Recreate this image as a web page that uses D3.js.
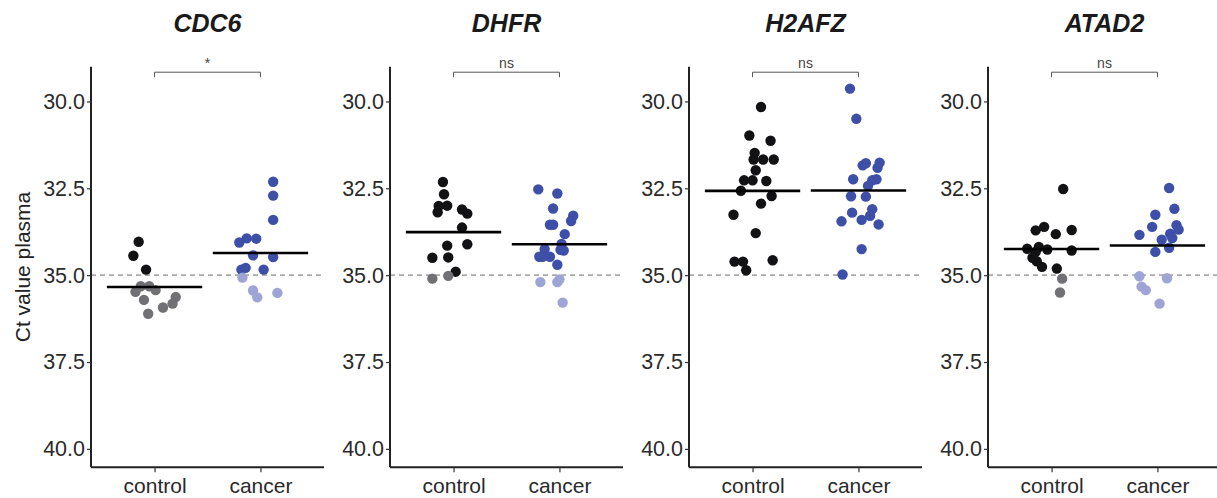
<!DOCTYPE html>
<html>
<head>
<meta charset="utf-8">
<script src="https://cdn.jsdelivr.net/npm/d3@7"></script>
<style>
  body { margin: 0; background: #fff; }
  text { font-family: "Liberation Sans", Arial, sans-serif; }
</style>
</head>
<body>
<div id="chart"></div>
<script>
// Panels and groups
var genes = ["CDC6", "DHFR", "H2AFZ", "ATAD2"];
var groups = ["control", "cancer"];
var signif = ["*", "ns", "ns", "ns"];
var yTicks = [30, 32.5, 35, 37.5, 40];
var cutoff = 35;

// Ct values (plasma)
var cdc6Control = [34.04, 34.44, 34.84, 35.32, 35.32, 35.48, 35.43, 35.71, 35.63, 35.82, 35.93, 36.11];
var cdc6Cancer = [32.31, 32.71, 33.41, 34.06, 33.94, 33.95, 34.43, 34.48, 34.84, 34.79, 34.84, 35.07, 35.44, 35.64, 35.51];
var dhfrControl = [32.32, 32.67, 33.01, 33.0, 33.19, 33.11, 33.23, 33.63, 34.15, 34.11, 34.5, 34.49, 34.9, 35.1, 35.02];
var dhfrCancer = [32.53, 32.65, 33.08, 33.29, 33.44, 33.55, 33.55, 33.82, 34.1, 34.25, 34.27, 34.29, 34.47, 34.47, 34.47, 34.7, 35.2, 35.2, 35.12, 35.79];
var h2afzControl = [30.16, 30.98, 31.13, 31.48, 31.67, 31.67, 31.67, 31.98, 32.27, 32.27, 32.29, 32.57, 32.72, 32.94, 33.26, 33.79, 34.61, 34.61, 34.57, 34.86];
var h2afzCancer = [29.63, 30.5, 31.84, 31.78, 31.76, 31.91, 32.24, 32.27, 32.24, 32.43, 32.73, 32.74, 33.2, 33.1, 33.29, 33.45, 33.41, 33.54, 34.25, 34.98];
var atad2Control = [32.52, 33.71, 33.61, 33.82, 33.70, 34.24, 34.19, 34.26, 34.29, 34.33, 34.5, 34.6, 34.76, 34.81, 35.1, 35.5];
var atad2Cancer = [32.49, 33.09, 33.26, 33.61, 33.56, 33.69, 33.84, 33.81, 33.98, 33.93, 34.21, 34.33, 35.03, 35.09, 35.33, 35.43, 35.82];

// horizontal jitter of each point, in category units
var cdc6ControlJitter = [-0.15, -0.20, -0.08, -0.13, -0.05, -0.18, 0.01, -0.10, 0.20, 0.17, 0.08, -0.06];
var cdc6CancerJitter = [0.12, 0.12, 0.12, -0.20, -0.13, -0.04, -0.07, 0.12, -0.18, -0.14, 0.03, -0.17, -0.07, -0.03, 0.16];
var dhfrControlJitter = [-0.10, -0.09, -0.14, -0.06, -0.15, 0.08, 0.13, 0.08, -0.06, 0.13, -0.20, -0.05, 0.02, -0.20, -0.05];
var dhfrCancerJitter = [-0.20, -0.02, -0.06, 0.13, 0.11, -0.09, -0.06, 0.05, 0.02, -0.14, 0.01, 0.04, -0.19, -0.16, -0.09, -0.02, -0.18, -0.02, 0.0, 0.03];
var h2afzControlJitter = [0.08, -0.03, 0.17, 0.02, 0.01, 0.10, 0.20, 0.03, -0.08, 0.0, 0.13, -0.11, 0.18, 0.08, -0.18, 0.03, -0.17, -0.09, 0.19, -0.06];
var h2afzCancerJitter = [-0.08, -0.02, 0.04, 0.07, 0.20, 0.18, -0.05, 0.13, 0.17, 0.09, -0.07, 0.07, -0.06, 0.13, 0.11, -0.16, 0.03, 0.19, 0.03, -0.15];
var atad2ControlJitter = [0.11, -0.15, -0.07, 0.04, 0.19, -0.23, -0.12, -0.04, 0.19, -0.15, -0.18, -0.14, -0.09, 0.05, 0.10, 0.08];
var atad2CancerJitter = [0.11, 0.16, -0.02, -0.05, 0.18, 0.20, -0.17, 0.12, 0.04, 0.14, 0.11, -0.02, -0.17, 0.09, -0.15, -0.11, 0.02];

var panels = [
  {control: cdc6Control, cancer: cdc6Cancer, controlJ: cdc6ControlJitter, cancerJ: cdc6CancerJitter},
  {control: dhfrControl, cancer: dhfrCancer, controlJ: dhfrControlJitter, cancerJ: dhfrCancerJitter},
  {control: h2afzControl, cancer: h2afzCancer, controlJ: h2afzControlJitter, cancerJ: h2afzCancerJitter},
  {control: atad2Control, cancer: atad2Cancer, controlJ: atad2ControlJitter, cancerJ: atad2CancerJitter}
];

//---------------------------------------Layout---------------------------------------
var size = {width: 1217, height: 498};
var plot = {left: 91, step: 299, top: 66.7, bottom: 467.3, width: 233};

// colours: full for Ct <= 35, faded above the cutoff
var colors = {
  control: {on: "#121214", off: "#707075"},
  cancer: {on: "#3e4fa8", off: "#9fa4d6"}
};

var y = d3.scaleLinear()
  .domain([29, 40.53])
  .range([plot.top, plot.bottom]);

// category index scale: control = 0, cancer = 1
var x = d3.scaleLinear()
  .domain([-0.6, 1.6])
  .range([0, plot.width]);

var svg = d3.select("#chart")
  .append("svg")
    .attr("width", size.width)
    .attr("height", size.height);

// y axis title
svg.append("text")
  .attr("transform", "translate(23," + (plot.top + plot.bottom) / 2 + ") rotate(-90)")
  .attr("text-anchor", "middle")
  .attr("dy", "0.35em")
  .attr("font-size", 21)
  .attr("fill", "#222")
  .text("Ct value plasma");

function draw_panel(p, i) {
  var g = svg.append("g")
    .attr("transform", "translate(" + (plot.left + i * plot.step) + ",0)");

  // title
  g.append("text")
    .attr("x", plot.width / 2)
    .attr("y", 32)
    .attr("text-anchor", "middle")
    .attr("font-size", 25)
    .attr("font-weight", "bold")
    .attr("font-style", "italic")
    .attr("fill", "#1a1a1a")
    .text(genes[i]);

  // cutoff line
  g.append("line")
    .attr("x1", 0)
    .attr("x2", plot.width)
    .attr("y1", y(cutoff))
    .attr("y2", y(cutoff))
    .attr("stroke", "#aaaaaa")
    .attr("stroke-width", 1.6)
    .attr("stroke-dasharray", "5,4");

  // points
  groups.forEach(function(grp, k) {
    var vals = p[grp], jit = p[grp + "J"];
    g.append("g").selectAll("circle")
      .data(vals)
      .enter().append("circle")
        .attr("cx", function(d, j) { return x(k + jit[j]); })
        .attr("cy", function(d) { return y(d); })
        .attr("r", 5.2)
        .attr("fill", function(d) { return d > cutoff ? colors[grp].off : colors[grp].on; });

    // mean bar
    var m = d3.mean(vals);
    g.append("line")
      .attr("x1", x(k - 0.45))
      .attr("x2", x(k + 0.45))
      .attr("y1", y(m))
      .attr("y2", y(m))
      .attr("stroke", "#000")
      .attr("stroke-width", 2.6);
  });

  // significance bracket
  var by = plot.top + 5.5;
  g.append("path")
    .attr("d", "M" + x(0) + "," + (by + 5) + "V" + by + "H" + x(1) + "V" + (by + 5))
    .attr("fill", "none")
    .attr("stroke", "#555")
    .attr("stroke-width", 1);
  g.append("text")
    .attr("x", (x(0) + x(1)) / 2)
    .attr("y", by - 4)
    .attr("text-anchor", "middle")
    .attr("font-size", 14)
    .attr("fill", "#444")
    .text(signif[i]);

  // axes
  var ya = g.append("g")
    .call(d3.axisLeft(y).tickValues(yTicks).tickFormat(d3.format(".1f")).tickSize(4).tickPadding(2));
  ya.select(".domain").attr("d", "M0," + plot.top + "V" + plot.bottom);

  var xa = g.append("g")
    .attr("transform", "translate(0," + plot.bottom + ")")
    .call(d3.axisBottom(x).tickValues([0, 1]).tickFormat(function(d) { return groups[d]; }).tickSize(5).tickPadding(6));
  xa.select(".domain").attr("d", "M0,0H" + plot.width);

  g.selectAll(".domain").attr("stroke", "#222").attr("stroke-width", 2);
  g.selectAll(".tick line").attr("stroke", "#333").attr("stroke-width", 1.2);
  ya.selectAll(".tick text").attr("font-size", 21.5);
  xa.selectAll(".tick text").attr("font-size", 21);
  g.selectAll(".tick text").attr("fill", "#2a2a2a")
    .attr("font-family", "'Liberation Sans', Arial, sans-serif");
}

panels.forEach(draw_panel);
</script>
</body>
</html>
